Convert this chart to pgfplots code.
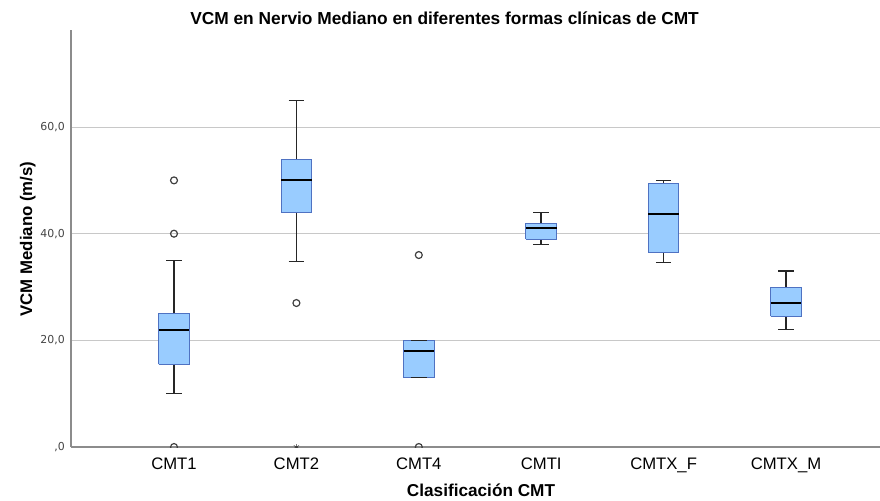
\documentclass[border=0pt]{standalone}
\usepackage{pgfplots}
\pgfplotsset{compat=1.18}
\usepackage{fontspec}
\setmainfont{Liberation Sans}
\newfontfamily\dejavu{DejaVu Sans}
\definecolor{boxfill}{HTML}{99CCFF}
\definecolor{boxedge}{HTML}{4F72C2}
\definecolor{gridc}{HTML}{C8C8C8}
\definecolor{axisc}{HTML}{8C8C8C}
\definecolor{tickc}{HTML}{444444}
\pgfplotsset{
  whisk/.style={draw=black!85, line width=1.15pt, mark=none, unbounded coords=jump},
  boxst/.style={draw=boxedge, fill=boxfill, line width=0.75pt, mark=none, line join=miter},
  med/.style={draw=black, line width=1.6pt, mark=none},
  outl/.style={only marks, mark=o, mark size=2.6pt, mark options={draw=black!75, fill=none, line width=0.9pt}},
}
\begin{document}
\begin{tikzpicture}
\begin{axis}[
  at={(53.25pt,39.75pt)}, anchor=south west,
  scale only axis, width=606.75pt, height=312.75pt,
  xmin=0.1585, xmax=6.768, ymin=0, ymax=78.2,
  axis x line*=bottom, axis y line*=left,
  axis line style={-, draw=axisc, line width=0.9pt},
  major tick length=0pt,
  xtick={1,2,3,4,5,6},
  xticklabels={CMT1,CMT2,CMT4,CMTI,CMTX\_F,CMTX\_M},
  xticklabel style={anchor=base, yshift=-16.5pt, font=\fontsize{12.5}{14}\selectfont, text=black},
  ytick={0,20,40,60},
  yticklabels={{,0},{20,0},{40,0},{60,0}},
  yticklabel style={anchor=east, inner sep=0pt, xshift=-4.5pt, font=\dejavu\fontsize{8.2}{9}\selectfont, text=tickc},
  ymajorgrids, grid style={draw=gridc, line width=0.8pt},
  clip marker paths=true,
]
% whisker stems: (position, quartile) to (position, whisker end)
\addplot[whisk] coordinates {(1,25) (1,35) (1,nan) (1,15.5) (1,10)};
\addplot[whisk] coordinates {(2,54) (2,65) (2,nan) (2,44) (2,34.8)};
\addplot[whisk] coordinates {(4,42) (4,44) (4,nan) (4,39) (4,38)};
\addplot[whisk] coordinates {(5,49.5) (5,50) (5,nan) (5,36.5) (5,34.6)};
\addplot[whisk] coordinates {(6,30) (6,33) (6,nan) (6,24.5) (6,22)};
% boxes: lower quartile to upper quartile
\addplot[boxst] coordinates {(0.875,15.5) (1.125,15.5) (1.125,25) (0.875,25) (0.875,15.5)};
\addplot[boxst] coordinates {(1.875,44) (2.125,44) (2.125,54) (1.875,54) (1.875,44)};
\addplot[boxst] coordinates {(2.875,13) (3.125,13) (3.125,20) (2.875,20) (2.875,13)};
\addplot[boxst] coordinates {(3.875,39) (4.125,39) (4.125,42) (3.875,42) (3.875,39)};
\addplot[boxst] coordinates {(4.875,36.5) (5.125,36.5) (5.125,49.5) (4.875,49.5) (4.875,36.5)};
\addplot[boxst] coordinates {(5.875,24.5) (6.125,24.5) (6.125,30) (5.875,30) (5.875,24.5)};
% medians
\addplot[med] coordinates {(0.875,22) (1.125,22)};
\addplot[med] coordinates {(1.875,50) (2.125,50)};
\addplot[med] coordinates {(2.875,18) (3.125,18)};
\addplot[med] coordinates {(3.875,41) (4.125,41)};
\addplot[med] coordinates {(4.875,43.7) (5.125,43.7)};
\addplot[med] coordinates {(5.875,27) (6.125,27)};
% whisker caps
\addplot[whisk] coordinates {(0.936,35) (1.064,35) (1,nan) (0.936,10) (1.064,10)};
\addplot[whisk] coordinates {(1.936,65) (2.064,65) (2,nan) (1.936,34.8) (2.064,34.8)};
\addplot[whisk] coordinates {(2.936,20) (3.064,20) (3,nan) (2.936,13) (3.064,13)};
\addplot[whisk] coordinates {(3.936,44) (4.064,44) (4,nan) (3.936,38) (4.064,38)};
\addplot[whisk] coordinates {(4.936,50) (5.064,50) (5,nan) (4.936,34.6) (5.064,34.6)};
\addplot[whisk] coordinates {(5.936,33) (6.064,33) (6,nan) (5.936,22) (6.064,22)};
% outliers and extreme value
\addplot[outl] coordinates {(1,50) (1,40) (1,0) (2,27) (3,36) (3,0)};
\addplot[only marks, mark=asterisk, mark size=2.2pt, black!80] coordinates {(2,0)};
\end{axis}
\node[anchor=base, font=\bfseries\fontsize{13}{15}\selectfont] at (333.4pt,356.25pt) {VCM en Nervio Mediano en diferentes formas clínicas de CMT};
\node[anchor=base, rotate=90, font=\bfseries\fontsize{12.6}{14}\selectfont] at (24pt,195.75pt) {VCM Mediano (m/s)};
\node[anchor=base, font=\bfseries\fontsize{12.9}{14}\selectfont] at (360.75pt,2.6pt) {Clasificación CMT};
\pgfresetboundingbox
\useasboundingbox (0,0) rectangle (660pt,375pt);
\end{tikzpicture}
\end{document}
